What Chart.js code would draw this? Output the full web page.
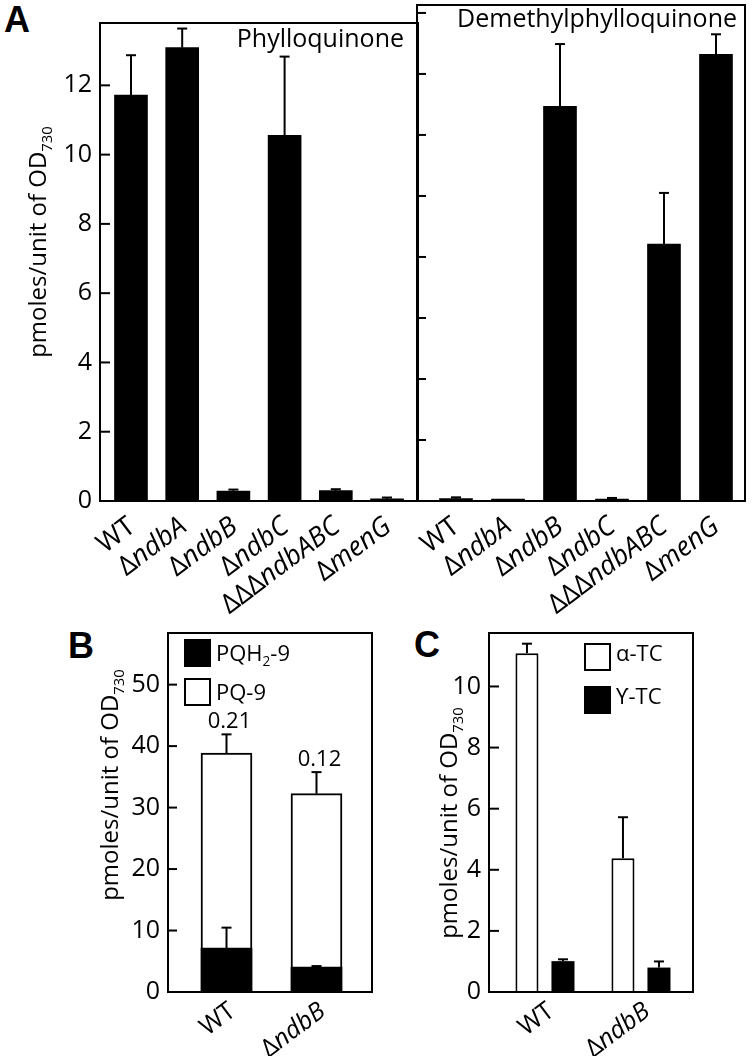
<!DOCTYPE html>
<html>
<head>
<meta charset="utf-8">
<script src="https://cdn.jsdelivr.net/npm/chart.js@4.4.1/dist/chart.umd.min.js"></script>
<style>
  body { margin: 0; background: #fff; width: 752px; height: 1056px; position: relative; overflow: hidden; }
  canvas { position: absolute; }
  .tag { position: absolute; font: bold 36px Arial, "Liberation Sans", sans-serif; line-height: 36px; }
</style>
</head>
<body>
<div class="tag" style="left:4px;top:2px">A</div>
<div class="tag" style="left:68px;top:628px">B</div>
<div class="tag" style="left:414px;top:627px">C</div>
<canvas id="chartA1" width="420" height="625" style="left:0;top:0"></canvas>
<canvas id="chartA2" width="345" height="625" style="left:407px;top:0"></canvas>
<canvas id="chartB" width="380" height="456" style="left:0;top:600px"></canvas>
<canvas id="chartC" width="372" height="456" style="left:380px;top:600px"></canvas>
<script>
// panel A
var strainsA = ['WT', 'ΔndbA', 'ΔndbB', 'ΔndbC', 'ΔΔΔndbABC', 'ΔmenG'];
var phylloquinone = [11.72, 13.09, 0.29, 10.56, 0.30, 0.06];
var phylloquinoneErr = [1.15, 0.55, 0.04, 2.27, 0.04, 0.04];
// right half has no tick labels, values are in tick units
var demethylPhylloquinone = [0.04, 0.03, 6.47, 0.03, 4.21, 7.32];
var demethylPhylloquinoneErr = [0.02, 0, 1.02, 0.02, 0.84, 0.33];

// panels B and C
var strainsBC = ['WT', 'ΔndbB'];
var pq9 = [38.86, 32.26];
var pq9Err = [3.05, 3.51];
var pqh29 = [7.15, 4.07];
var pqh29Err = [3.32, 0.15];
var redoxRatio = ['0.21', '0.12'];
var alphaTC = [11.09, 4.38];
var alphaTCErr = [0.31, 1.34];
var gammaTC = [1.01, 0.80];
var gammaTCErr = [0.06, 0.20];

var FONT = '"Open Sans", "DejaVu Sans", sans-serif';
Chart.defaults.font.family = FONT;
Chart.defaults.color = '#000';

var odTitle = [{t: 'pmoles/unit of OD'}, {t: '730', sub: true}];
var legendB = [[{t: 'PQH'}, {t: '2', sub: true}, {t: '-9'}], [{t: 'PQ-9'}]];
var legendC = [[{t: 'α-TC'}], [{t: 'ϒ-TC'}]];

function fontFor(p, size) {
    return (p.it ? 'italic ' : '') + (p.sub ? size * 0.62 : size) + 'px ' + FONT;
}
function richWidth(ctx, parts, size) {
    var w = 0;
    parts.forEach(function (p) { ctx.font = fontFor(p, size); w += ctx.measureText(p.t).width; });
    return w;
}
function drawRich(ctx, parts, x, y, size) {
    parts.forEach(function (p) {
        ctx.font = fontFor(p, size);
        ctx.fillText(p.t, x, p.sub ? y + size * 0.22 : y);
        x += ctx.measureText(p.t).width;
    });
}
// deltas upright, gene name in italics
function strainParts(s) {
    var m = s.match(/^(Δ*)(.*)$/);
    if (!m[1]) return [{t: s}];
    return [{t: m[1]}, {t: m[2], it: true}];
}
function pts(values) {
    return values.map(function (v, i) { return {x: i, y: v}; });
}

var panelPlugin = {
    id: 'panel',
    afterDatasetsDraw: function (chart, args, o) {
        var ctx = chart.ctx, a = chart.chartArea, x = chart.scales.x, y = chart.scales.y;
        function line(x1, y1, x2, y2) { ctx.beginPath(); ctx.moveTo(x1, y1); ctx.lineTo(x2, y2); ctx.stroke(); }
        ctx.save();
        ctx.strokeStyle = '#000';
        ctx.fillStyle = '#000';
        ctx.lineWidth = 2;
        ctx.textBaseline = 'alphabetic';

        // error bars, upper side only
        chart.data.datasets.forEach(function (ds, di) {
            if (!ds.errors) return;
            chart.getDatasetMeta(di).data.forEach(function (bar, i) {
                var e = ds.errors[i];
                var top = y.getPixelForValue(ds.data[i].y + e);
                if (e > 0) {
                    line(bar.x, bar.y, bar.x, top);
                    line(bar.x - 5, top, bar.x + 5, top);
                }
                if (ds.ratios) {
                    ctx.font = '22px ' + FONT;
                    ctx.textAlign = 'center';
                    ctx.fillText(ds.ratios[i], bar.x + 3, top - 6);
                }
            });
        });

        // frame and inward ticks
        ctx.strokeRect(a.left, a.top, a.right - a.left, a.bottom - a.top);
        y.ticks.forEach(function (t) {
            var py = y.getPixelForValue(t.value);
            line(a.left, py, a.left + o.tickLen, py);
        });
        ctx.textAlign = 'left';

        if (o.title) {
            ctx.save();
            ctx.translate(o.titleX, o.titleY);
            ctx.rotate(-Math.PI / 2);
            drawRich(ctx, o.title, -richWidth(ctx, o.title, o.titleSize) / 2, o.titleSize * 0.27, o.titleSize);
            ctx.restore();
        }

        if (o.cats) {
            o.cats.forEach(function (s, i) {
                var parts = strainParts(s);
                ctx.save();
                ctx.translate(x.getPixelForValue(i) + o.catDx, a.bottom + o.catDy);
                ctx.rotate(-37 * Math.PI / 180);
                drawRich(ctx, parts, -richWidth(ctx, parts, o.catSize), o.catSize * 0.36, o.catSize);
                ctx.restore();
            });
        }

        if (o.header) {
            ctx.font = '25px ' + FONT;
            ctx.textAlign = 'right';
            ctx.fillText(o.header, a.right - o.headerDx, a.top + o.headerDy);
            ctx.textAlign = 'left';
        }

        if (o.legend) {
            o.legend.forEach(function (parts, i) {
                var ds = chart.data.datasets[i];
                var bx = a.left + o.legendX, by = a.top + o.legendY + i * o.legendStep;
                ctx.fillStyle = ds.backgroundColor;
                ctx.fillRect(bx, by, 27, 28);
                if (ds.borderWidth) ctx.strokeRect(bx + 1, by + 1, 25, 26);
                ctx.fillStyle = '#000';
                drawRich(ctx, parts, bx + 32, by + o.legendBase, 22);
            });
        }
        ctx.restore();
    }
};

function baseOptions(c) {
    return {
        responsive: false,
        animation: false,
        devicePixelRatio: 1,
        events: [],
        layout: {padding: c.padding},
        plugins: {legend: {display: false}, tooltip: {enabled: false}, panel: c.panel},
        scales: {
            x: {
                type: 'linear', min: c.xmin, max: c.xmax, offset: false,
                grid: {display: false, drawTicks: false}, border: {display: false},
                ticks: {display: false},
                afterBuildTicks: function (s) { s.ticks = c.cats.map(function (_, i) { return {value: i}; }); },
                afterFit: function (s) { s.height = c.xh; }
            },
            y: {
                min: 0, max: c.ymax,
                grid: {display: false, drawTicks: false}, border: {display: false},
                ticks: {display: c.yLabels, stepSize: c.ystep, includeBounds: false, padding: 8, font: {size: 25}},
                afterFit: function (s) { s.width = c.yw; }
            }
        }
    };
}

new Chart(document.getElementById('chartA1'), {
    type: 'bar',
    data: {datasets: [{data: pts(phylloquinone), errors: phylloquinoneErr, backgroundColor: '#000', borderWidth: 0, barThickness: 33}]},
    options: baseOptions({
        padding: {top: 4, right: 2, left: 0, bottom: 0},
        cats: strainsA, xmin: -0.605, xmax: 5.605, xh: 124,
        ymax: 13.8, ystep: 2, yw: 100, yLabels: true,
        panel: {tickLen: 10, title: odTitle, titleX: 40, titleY: 242, titleSize: 24,
            cats: strainsA, catSize: 27, catDx: 0, catDy: 21,
            header: 'Phylloquinone', headerDx: 14, headerDy: 24}
    }),
    plugins: [panelPlugin]
});

new Chart(document.getElementById('chartA2'), {
    type: 'bar',
    data: {datasets: [{data: pts(demethylPhylloquinone), errors: demethylPhylloquinoneErr, backgroundColor: '#000', borderWidth: 0, barThickness: 33}]},
    options: baseOptions({
        padding: {top: 5, right: 7, left: 0, bottom: 0},
        cats: strainsA, xmin: -0.75, xmax: 5.558, xh: 124,
        ymax: 8.13, ystep: 1, yw: 10, yLabels: false,
        panel: {tickLen: 9, cats: strainsA, catSize: 27, catDx: -1, catDy: 21,
            header: 'Demethylphylloquinone', headerDx: 8, headerDy: 22}
    }),
    plugins: [panelPlugin]
});

new Chart(document.getElementById('chartB'), {
    type: 'bar',
    data: {datasets: [
        {data: pts(pqh29), errors: pqh29Err, backgroundColor: '#000', borderWidth: 0, barThickness: 51, grouped: false},
        {data: pts(pq9), errors: pq9Err, ratios: redoxRatio, backgroundColor: '#fff', borderColor: '#000', borderWidth: 2, barThickness: 51, grouped: false}
    ]},
    options: baseOptions({
        padding: {top: 33, right: 8, left: 0, bottom: 0},
        cats: strainsBC, xmin: -0.65, xmax: 1.6167, xh: 64,
        ymax: 58.4, ystep: 10, yw: 168, yLabels: true,
        panel: {tickLen: 9, title: odTitle, titleX: 112, titleY: 185, titleSize: 24,
            cats: strainsBC, catSize: 25, catDx: 5, catDy: 15,
            legend: legendB, legendX: 16, legendY: 6, legendStep: 39, legendBase: 22}
    }),
    plugins: [panelPlugin]
});

new Chart(document.getElementById('chartC'), {
    type: 'bar',
    data: {datasets: [
        {data: pts(alphaTC), errors: alphaTCErr, backgroundColor: '#fff', borderColor: '#000', borderWidth: 2, categoryPercentage: 0.75, barPercentage: 0.64},
        {data: pts(gammaTC), errors: gammaTCErr, backgroundColor: '#000', borderWidth: 0, categoryPercentage: 0.75, barPercentage: 0.64}
    ]},
    options: baseOptions({
        padding: {top: 33, right: 59, left: 0, bottom: 0},
        cats: strainsBC, xmin: -0.583, xmax: 1.542, xh: 64,
        ymax: 11.75, ystep: 2, yw: 109, yLabels: true,
        panel: {tickLen: 10, title: odTitle, titleX: 71, titleY: 223, titleSize: 24,
            cats: strainsBC, catSize: 25, catDx: 5, catDy: 15,
            legend: legendC, legendX: 95, legendY: 10, legendStep: 43, legendBase: 18}
    }),
    plugins: [panelPlugin]
});
</script>
</body>
</html>
